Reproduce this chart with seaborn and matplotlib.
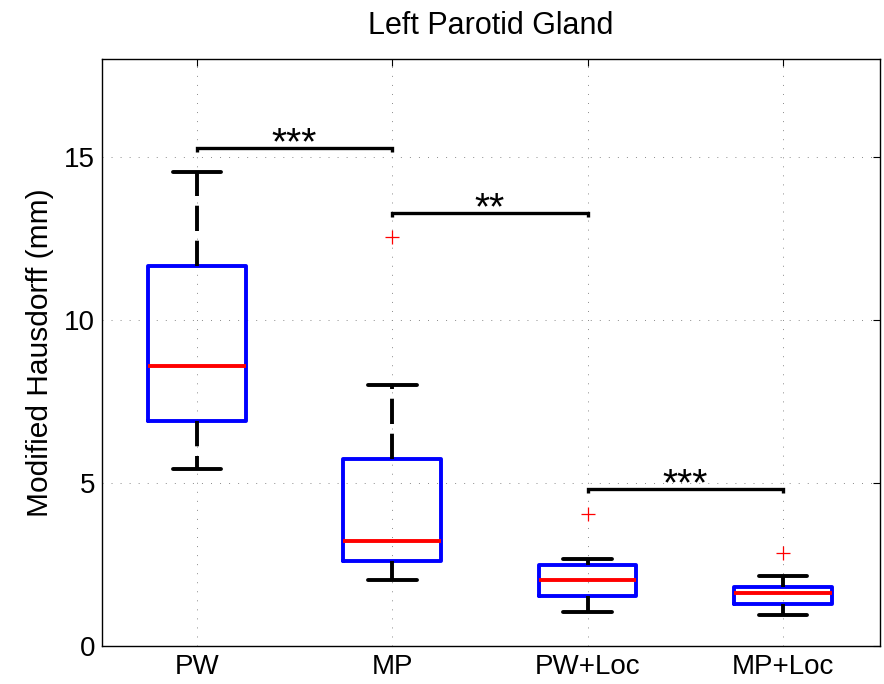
import matplotlib
matplotlib.use("Agg")
import matplotlib.pyplot as plt
import seaborn as sns
import pandas as pd

# ---- data ----
groups = ["PW", "MP", "PW+Loc", "MP+Loc"]
pw_vals = [5.42, 6.89, 6.89, 8.57, 8.57, 11.66, 11.66, 14.54, 14.54]
mp_vals = [2.02, 2.59, 2.59, 3.22, 3.22, 5.72, 5.72, 7.99, 12.55]
pwloc_vals = [1.03, 1.54, 1.54, 2.03, 2.03, 2.48, 2.48, 2.66, 4.06]
mploc_vals = [0.95, 1.29, 1.29, 1.63, 1.63, 1.81, 1.81, 2.13, 2.85]
yticks = [0, 5, 10, 15]
sig_left = ["PW", "MP", "PW+Loc"]
sig_right = ["MP", "PW+Loc", "MP+Loc"]
sig_height = [15.27, 13.28, 4.81]
sig_label = ["***", "**", "***"]

df = pd.DataFrame({
    "group": ["PW"] * len(pw_vals) + ["MP"] * len(mp_vals)
             + ["PW+Loc"] * len(pwloc_vals) + ["MP+Loc"] * len(mploc_vals),
    "value": pw_vals + mp_vals + pwloc_vals + mploc_vals,
})

sns.set_theme(style="white")
plt.rcParams["font.family"] = ["Liberation Sans", "DejaVu Sans"]
plt.rcParams["text.color"] = "black"
plt.rcParams["axes.labelcolor"] = "black"
plt.rcParams["xtick.color"] = "black"
plt.rcParams["ytick.color"] = "black"

fig = plt.figure(figsize=(8.84, 6.84), dpi=100)
ax = fig.add_axes([0.1154, 0.0556, 0.8801, 0.8586])

lw = 2.8
sns.boxplot(
    data=df, x="group", y="value", order=groups, ax=ax,
    width=0.5, fill=False, linewidth=lw, linecolor="black",
    boxprops=dict(color="blue", linewidth=lw),
    medianprops=dict(color="red", linewidth=lw),
    whiskerprops=dict(color="black", linewidth=lw, linestyle=(0, (6.5, 2.5))),
    capprops=dict(color="black", linewidth=lw),
    flierprops=dict(marker="+", markeredgecolor="red", markerfacecolor="red",
                    markersize=10, markeredgewidth=0.9),
)

# significance brackets
pos = {g: i for i, g in enumerate(groups)}
for l, r, h, lab in zip(sig_left, sig_right, sig_height, sig_label):
    x0, x1 = pos[l], pos[r]
    ax.plot([x0, x0, x1, x1], [h - 0.12, h, h, h - 0.12], color="black",
            lw=2.4, solid_capstyle="butt", solid_joinstyle="miter", zorder=5)
    ax.text((x0 + x1) / 2, h - 0.2, lab, ha="center", va="baseline",
            fontsize=28, color="black", zorder=6)

ax.set_xlim(-0.486, 3.497)
ax.set_ylim(0, 18)
ax.set_yticks(yticks)
ax.set_xlabel("")
ax.set_ylabel("Modified Hausdorff (mm)", fontsize=21.5, color="black")
ax.yaxis.set_label_coords(-0.062, 0.5)
ax.set_title("Left Parotid Gland", fontsize=22, pad=18, color="black")

ax.grid(True, color="#8a8a8a", linestyle=(0, (1, 8.3)), linewidth=0.7)
ax.set_axisbelow(True)
ax.tick_params(axis="both", which="both", direction="in", length=5, width=0.8,
               labelsize=20, top=True, right=True, color="black",
               labelcolor="black")
ax.tick_params(axis="x", pad=6)
ax.tick_params(axis="y", pad=5)
for s in ax.spines.values():
    s.set_visible(True)
    s.set_color("black")
    s.set_linewidth(1.0)

fig.savefig("out.png", dpi=100)
